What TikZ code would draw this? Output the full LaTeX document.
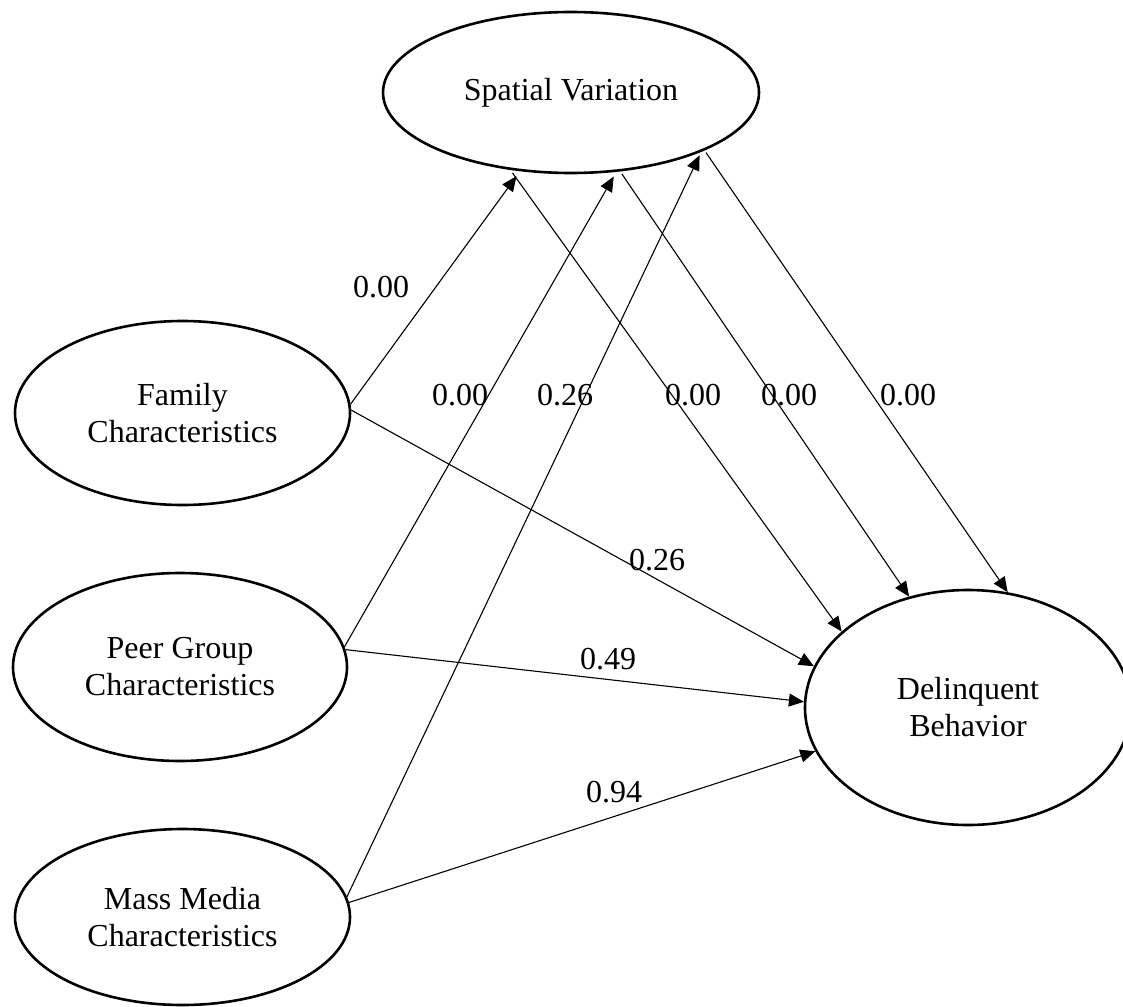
\documentclass[tikz,border=0pt]{standalone}
\usepackage{fontspec}
\setmainfont{Liberation Serif}
\usetikzlibrary{shapes.geometric,arrows.meta}
\tikzstyle{latent}=[ellipse,draw,line width=1.3pt,inner sep=0pt,align=center,font=\fontsize{16}{18.5}\selectfont]
\tikzstyle{effect}=[draw,line width=0.55pt,-{Triangle[length=7.5pt,width=6.5pt]}]
\tikzstyle{coef}=[inner sep=0pt,font=\fontsize{16}{18.5}\selectfont]

\begin{document}
\begin{tikzpicture}[x=0.5pt,y=-0.5pt]
                 \useasboundingbox (0,0) rectangle (1123,1006);
                 \path (571,92.5) node[latent,minimum width=188pt,minimum height=80.5pt,outer sep=2pt] (S) {Spatial Variation}
                     (182.5,413) node[latent,minimum width=167.5pt,minimum height=92pt] (F) {Family\\Characteristics}
                     (180,667) node[latent,minimum width=167pt,minimum height=94pt] (P) {Peer Group\\Characteristics}
                     (182.5,917) node[latent,minimum width=167.5pt,minimum height=88pt] (M) {Mass Media\\Characteristics}
                     (968,707.5) node[latent,minimum width=163pt,minimum height=117.5pt] (D) {Delinquent\\Behavior}
                     ;
                 \draw[effect,shorten >=1.5pt] (F.3) -- (S.237);
                 \draw[effect,shorten >=1pt] (P.7) -- (S.298);
                 \draw[effect] (M.7) -- (S.334);
                 \draw[effect] (S.234) -- (D.149);
                 \draw[effect] (S.302) -- (D.118);
                 \draw[effect] (S.336) -- (D.71);
                 \draw[effect] (F.1) -- (D.165);
                 \draw[effect] (P.6) -- (D.178.4);
                 \draw[effect] (M.5) -- (D.196);
                 \path (381,287) node[coef] (fs) {0.00}
                     (460,395) node[coef] (ps) {0.00}
                     (565,395) node[coef] (ms) {0.26}
                     (693,395) node[coef] (sd1) {0.00}
                     (789,395) node[coef] (sd2) {0.00}
                     (908,395) node[coef] (sd3) {0.00}
                     (657,560) node[coef] (fd) {0.26}
                     (608,659) node[coef] (pd) {0.49}
                     (614,792) node[coef] (md) {0.94}
                     ;
            \end{tikzpicture}
\end{document}
